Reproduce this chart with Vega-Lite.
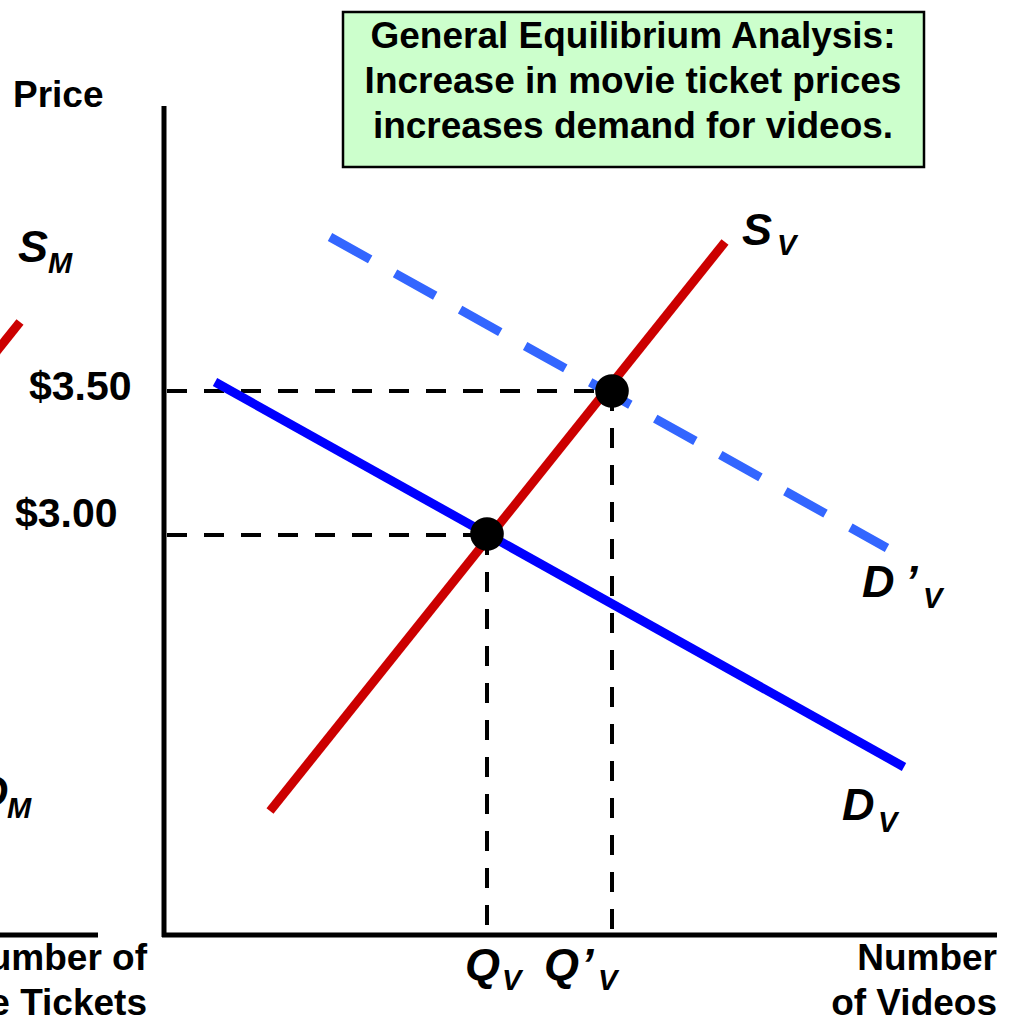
{
  "$schema": "https://vega.github.io/schema/vega-lite/v6.json",
  "width": 1019,
  "height": 1024,
  "autosize": {"type": "none"},
  "padding": 0,
  "background": "white",
  "config": {"view": {"stroke": null}, "text": {"font": "Liberation Sans"}},
  "datasets": {
    "box": [{"x": 343, "x2": 924, "y": 12, "y2": 167}],
    "axes": [
      {"x": 164, "y": 106, "x2": 164, "y2": 937},
      {"x": 162, "y": 935, "x2": 997, "y2": 935},
      {"x": -10, "y": 935, "x2": 98, "y2": 935}
    ],
    "guides": [
      {"x": 167, "y": 391, "x2": 612, "y2": 391},
      {"x": 167, "y": 535, "x2": 487, "y2": 535},
      {"x": 487, "y": 535, "x2": 487, "y2": 933},
      {"x": 612, "y": 391, "x2": 612, "y2": 933}
    ],
    "supply": [
      {"curve": "S_V", "x": 270, "y": 811, "x2": 725, "y2": 242},
      {"curve": "S_M", "x": -20, "y": 372, "x2": 20, "y2": 322}
    ],
    "demand": [{"curve": "D_V", "x": 215, "y": 382, "x2": 904, "y2": 767}],
    "demand2": [{"curve": "D'_V", "x": 330, "y": 237, "x2": 887, "y2": 548}],
    "equilibria": [{"x": 487, "y": 534}, {"x": 612, "y": 391}],
    "title": [
      {"x": 633, "y": 48, "label": "General Equilibrium Analysis:"},
      {"x": 633, "y": 93, "label": "Increase in movie ticket prices"},
      {"x": 633, "y": 138, "label": "increases demand for videos."}
    ],
    "price": [{"x": 13, "y": 107, "label": "Price"}],
    "prices": [
      {"x": 29, "y": 400, "label": "$3.50"},
      {"x": 15, "y": 527, "label": "$3.00"}
    ],
    "axislabels": [
      {"x": 997, "y": 970, "label": "Number"},
      {"x": 997, "y": 1015, "label": "of Videos"},
      {"x": 147, "y": 970, "label": "Number of"},
      {"x": 147, "y": 1015, "label": "Movie Tickets"}
    ],
    "letters": [
      {"x": 742, "y": 245, "label": "S"},
      {"x": 862, "y": 597, "label": "D"},
      {"x": 905, "y": 597, "label": "’"},
      {"x": 842, "y": 820, "label": "D"},
      {"x": 18, "y": 262, "label": "S"},
      {"x": -24, "y": 807, "label": "D"},
      {"x": 465, "y": 980, "label": "Q"},
      {"x": 544, "y": 980, "label": "Q"},
      {"x": 581, "y": 980, "label": "’"}
    ],
    "subs": [
      {"x": 777, "y": 255, "label": "V"},
      {"x": 923, "y": 608, "label": "V"},
      {"x": 878, "y": 832, "label": "V"},
      {"x": 48, "y": 273, "label": "M"},
      {"x": 7, "y": 818, "label": "M"},
      {"x": 502, "y": 990, "label": "V"},
      {"x": 598, "y": 990, "label": "V"}
    ]
  },
  "layer": [
    {
      "data": {"name": "box"},
      "mark": {"type": "rect", "fill": "#CCFFCC", "stroke": "#000000", "strokeWidth": 2.5},
      "encoding": {
        "x": {"field": "x", "type": "quantitative", "scale": {"domain": [0, 1019], "nice": false, "zero": false}, "axis": null},
        "x2": {"field": "x2"},
        "y": {"field": "y", "type": "quantitative", "scale": {"domain": [0, 1024], "nice": false, "zero": false, "reverse": true}, "axis": null},
        "y2": {"field": "y2"}
      }
    },
    {
      "data": {"name": "axes"},
      "mark": {"type": "rule", "color": "#000000", "strokeWidth": 5},
      "encoding": {
        "x": {"field": "x", "type": "quantitative"},
        "x2": {"field": "x2"},
        "y": {"field": "y", "type": "quantitative"},
        "y2": {"field": "y2"}
      }
    },
    {
      "data": {"name": "guides"},
      "mark": {"type": "rule", "color": "#000000", "strokeWidth": 4, "strokeDash": [20, 17]},
      "encoding": {
        "x": {"field": "x", "type": "quantitative"},
        "x2": {"field": "x2"},
        "y": {"field": "y", "type": "quantitative"},
        "y2": {"field": "y2"}
      }
    },
    {
      "data": {"name": "demand2"},
      "mark": {"type": "rule", "color": "#3366FF", "strokeWidth": 9, "strokeDash": [46, 28.5]},
      "encoding": {
        "x": {"field": "x", "type": "quantitative"},
        "x2": {"field": "x2"},
        "y": {"field": "y", "type": "quantitative"},
        "y2": {"field": "y2"}
      }
    },
    {
      "data": {"name": "demand"},
      "mark": {"type": "rule", "color": "#0000FF", "strokeWidth": 9},
      "encoding": {
        "x": {"field": "x", "type": "quantitative"},
        "x2": {"field": "x2"},
        "y": {"field": "y", "type": "quantitative"},
        "y2": {"field": "y2"}
      }
    },
    {
      "data": {"name": "supply"},
      "mark": {"type": "rule", "color": "#CC0000", "strokeWidth": 9},
      "encoding": {
        "x": {"field": "x", "type": "quantitative"},
        "x2": {"field": "x2"},
        "y": {"field": "y", "type": "quantitative"},
        "y2": {"field": "y2"}
      }
    },
    {
      "data": {"name": "equilibria"},
      "mark": {"type": "point", "shape": "circle", "filled": true, "color": "#000000", "opacity": 1, "size": 1130},
      "encoding": {
        "x": {"field": "x", "type": "quantitative"},
        "y": {"field": "y", "type": "quantitative"}
      }
    },
    {
      "data": {"name": "title"},
      "mark": {"type": "text", "fontSize": 37, "fontWeight": "bold", "align": "center", "baseline": "alphabetic", "color": "#000000"},
      "encoding": {
        "x": {"field": "x", "type": "quantitative"},
        "y": {"field": "y", "type": "quantitative"},
        "text": {"field": "label"}
      }
    },
    {
      "data": {"name": "price"},
      "mark": {"type": "text", "fontSize": 37, "fontWeight": "bold", "align": "left", "baseline": "alphabetic", "color": "#000000"},
      "encoding": {
        "x": {"field": "x", "type": "quantitative"},
        "y": {"field": "y", "type": "quantitative"},
        "text": {"field": "label"}
      }
    },
    {
      "data": {"name": "prices"},
      "mark": {"type": "text", "fontSize": 41, "fontWeight": "bold", "align": "left", "baseline": "alphabetic", "color": "#000000"},
      "encoding": {
        "x": {"field": "x", "type": "quantitative"},
        "y": {"field": "y", "type": "quantitative"},
        "text": {"field": "label"}
      }
    },
    {
      "data": {"name": "axislabels"},
      "mark": {"type": "text", "fontSize": 37, "fontWeight": "bold", "align": "right", "baseline": "alphabetic", "color": "#000000"},
      "encoding": {
        "x": {"field": "x", "type": "quantitative"},
        "y": {"field": "y", "type": "quantitative"},
        "text": {"field": "label"}
      }
    },
    {
      "data": {"name": "letters"},
      "mark": {"type": "text", "fontSize": 45, "fontWeight": "bold", "fontStyle": "italic", "align": "left", "baseline": "alphabetic", "color": "#000000"},
      "encoding": {
        "x": {"field": "x", "type": "quantitative"},
        "y": {"field": "y", "type": "quantitative"},
        "text": {"field": "label"}
      }
    },
    {
      "data": {"name": "subs"},
      "mark": {"type": "text", "fontSize": 29, "fontWeight": "bold", "fontStyle": "italic", "align": "left", "baseline": "alphabetic", "color": "#000000"},
      "encoding": {
        "x": {"field": "x", "type": "quantitative"},
        "y": {"field": "y", "type": "quantitative"},
        "text": {"field": "label"}
      }
    }
  ]
}
